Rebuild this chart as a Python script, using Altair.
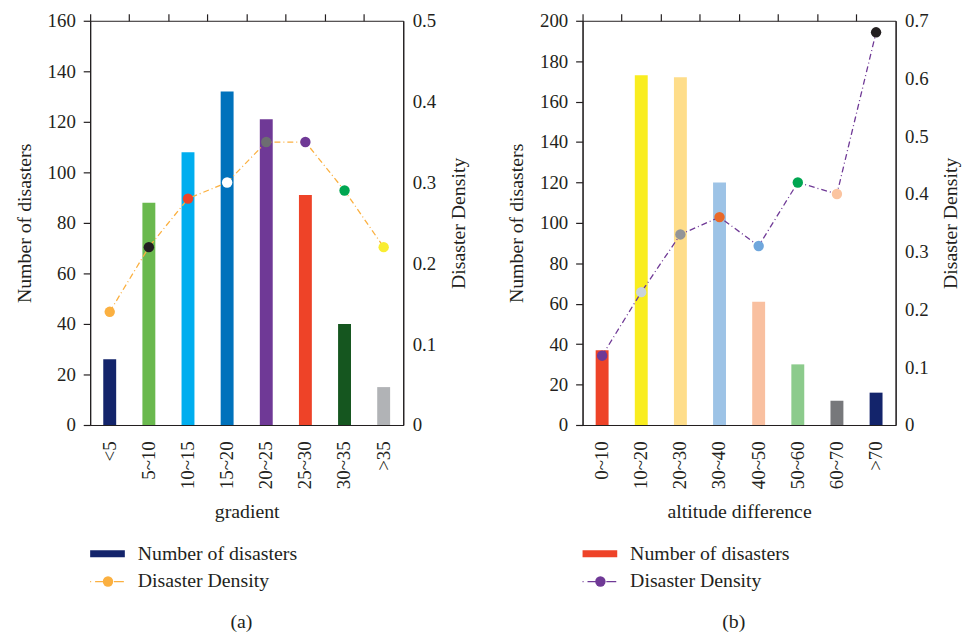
import altair as alt
import pandas as pd

FONT = "Liberation Serif"
INK = "#231f20"

grad_cats = ["<5", "5~10", "10~15", "15~20", "20~25", "25~30", "30~35", ">35"]
grad_counts = [26, 88, 108, 132, 121, 91, 40, 15]
grad_density = [0.14, 0.22, 0.28, 0.30, 0.35, 0.35, 0.29, 0.22]
grad_bar_colors = ["#13246b", "#6ab94e", "#00aeef", "#0072bc", "#6f3996", "#ee4328", "#15561f", "#b1b3b6"]
grad_pt_colors = ["#fbb040", "#231f20", "#ee4328", "#ffffff", "#6d6e71", "#6f3996", "#00a651", "#f9ed32"]

alt_cats = ["0~10", "10~20", "20~30", "30~40", "40~50", "50~60", "60~70", ">70"]
alt_counts = [37, 173, 172, 120, 61, 30, 12, 16]
alt_density = [0.12, 0.23, 0.33, 0.36, 0.31, 0.42, 0.40, 0.68]
alt_bar_colors = ["#ee4328", "#f9ed1f", "#fedd8a", "#9dc3e6", "#f9c0a0", "#8ccb8c", "#77787b", "#13246b"]
alt_pt_colors = ["#6f3996", "#c9d3dc", "#939598", "#e8692a", "#6fa6dc", "#00a651", "#fbc4a0", "#231f20"]

grad_count_ticks = [0, 20, 40, 60, 80, 100, 120, 140, 160]
grad_density_ticks = [0, 0.1, 0.2, 0.3, 0.4, 0.5]
alt_count_ticks = [0, 20, 40, 60, 80, 100, 120, 140, 160, 180, 200]
alt_density_ticks = [0, 0.1, 0.2, 0.3, 0.4, 0.5, 0.6, 0.7]

legend_labels = ["Number of disasters", "Disaster Density"]

W, H = 316, 408
DASH = [6, 3, 1, 3]
TFS = 20


def panel(cats, counts, density, bar_colors, pt_colors, xtitle, count_ticks, dens_ticks, line_color, caption):
    df = pd.DataFrame({"cat": cats, "count": counts, "density": density,
                       "bar_color": bar_colors, "pt_color": pt_colors})
    xscale = alt.Scale(paddingInner=0, paddingOuter=0)
    bars = alt.Chart(df).mark_bar(width=alt.RelativeBandSize(0.33)).encode(
        x=alt.X("cat:N", sort=cats, scale=xscale,
                axis=alt.Axis(title=xtitle, labelAngle=-90, ticks=False, labelPadding=16,
                              titlePadding=13)),
        y=alt.Y("count:Q", scale=alt.Scale(domain=[count_ticks[0], count_ticks[-1]], nice=False),
                axis=alt.Axis(title="Number of disasters", values=count_ticks, tickSize=7,
                              labelPadding=8, titlePadding=13)),
        color=alt.Color("bar_color:N", scale=None),
    )
    line = alt.Chart(df).mark_line(color=line_color, strokeDash=DASH, strokeWidth=1.3).encode(
        x=alt.X("cat:N", sort=cats, scale=xscale,
                axis=alt.Axis(title=None, labels=False, domain=False, ticks=True, tickSize=7,
                              bandPosition=0)),
        y=alt.Y("density:Q", scale=alt.Scale(domain=[dens_ticks[0], dens_ticks[-1]], nice=False),
                axis=alt.Axis(title="Disaster Density", orient="right", values=dens_ticks, format="~g",
                              ticks=False, labelPadding=9, titlePadding=13, titleAngle=270,
                              titleBaseline="top")),
    )
    pts = alt.Chart(df).mark_circle(size=110, opacity=1).encode(
        x=alt.X("cat:N", sort=cats, scale=xscale, axis=None),
        y=alt.Y("density:Q", scale=alt.Scale(domain=[dens_ticks[0], dens_ticks[-1]], nice=False), axis=None),
        color=alt.Color("pt_color:N", scale=None),
    )
    main = alt.layer(bars, line, pts).resolve_scale(y="independent").resolve_axis(x="independent").properties(
        width=W, height=H)

    leg_df = pd.DataFrame({"label": legend_labels, "row": [0, 1]})
    yscale = alt.Scale(domain=[0, 1], range=[10, 38])
    base = alt.Chart(leg_df)
    leg_rect = base.transform_filter("datum.row == 0").mark_rect(color=bar_colors[0]).encode(
        x=alt.value(0), x2=alt.value(35), y=alt.value(6.5), y2=alt.value(13.5))
    leg_line = base.transform_filter("datum.row == 1").mark_rule(
        color=pt_colors[0], strokeDash=[1, 4, 10, 4], strokeWidth=1.3).encode(
        x=alt.value(0), x2=alt.value(35), y=alt.value(38))
    leg_pt = base.transform_filter("datum.row == 1").mark_circle(size=110, opacity=1, color=pt_colors[0]).encode(
        x=alt.value(18), y=alt.value(38))
    leg_text = base.mark_text(align="left", baseline="middle", font=FONT, fontSize=TFS, color=INK).encode(
        x=alt.value(48), y=alt.Y("row:Q", scale=yscale, axis=None), text="label:N")
    legend = alt.layer(leg_rect, leg_line, leg_pt, leg_text).properties(
        width=W, height=48, view=alt.ViewBackground(stroke="transparent"))

    return alt.vconcat(main, legend, spacing=21,
                       title=alt.TitleParams(caption, orient="bottom", anchor="middle", font=FONT,
                                             fontSize=TFS, fontWeight="normal", color=INK, offset=20))


left = panel(grad_cats, grad_counts, grad_density, grad_bar_colors, grad_pt_colors, "gradient",
             grad_count_ticks, grad_density_ticks, "#fbb040", "(a)")
right = panel(alt_cats, alt_counts, alt_density, alt_bar_colors, alt_pt_colors, "altitude difference",
              alt_count_ticks, alt_density_ticks, "#6f3996", "(b)")

chart = alt.hconcat(left, right, spacing=37).configure(
    padding={"left": 14, "top": 8, "right": 2, "bottom": 0}, background="white"
).configure_view(stroke=INK, strokeWidth=1).configure_axis(
    labelFont=FONT, titleFont=FONT, labelFontSize=19, titleFontSize=TFS, titleFontWeight="normal",
    labelColor=INK, titleColor=INK, domainColor=INK, tickColor=INK, grid=False, domainWidth=1.2,
    tickWidth=1.2,
)

chart.save("out.html", embed_options={"renderer": "svg", "actions": False})
